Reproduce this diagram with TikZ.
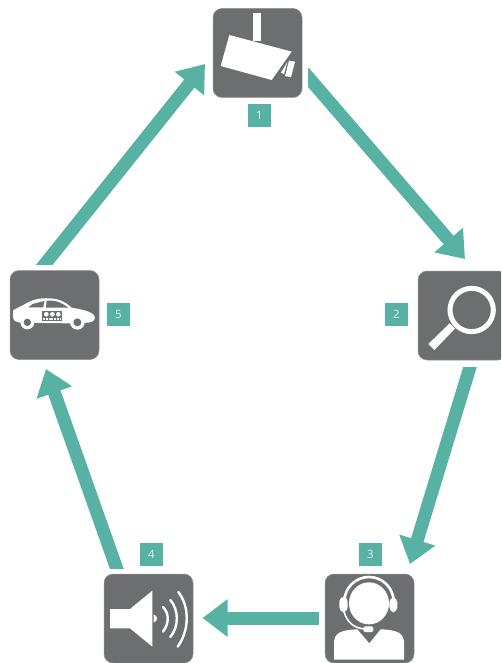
\documentclass[tikz,border=0pt]{standalone}
\usepackage{fontspec}
\setmainfont{Open Sans}
\usetikzlibrary{arrows.meta}
\definecolor{boxgray}{HTML}{6D6E70}
\definecolor{teal}{HTML}{58B2A4}
\definecolor{lab}{HTML}{E6F4F1}
\tikzset{
  iconbox/.style={rectangle,fill=boxgray,draw=boxgray!75,line width=.5pt,minimum size=89pt,inner sep=0pt,rounded corners=9pt},
  numbox/.style={rectangle,fill=teal,text=lab,minimum size=23.5pt,inner sep=0pt,font=\fontsize{11.5}{11.5}\selectfont},
  flow/.style={draw=teal,line width=13pt,-{Triangle[length=25pt,width=36pt,fill=teal]}},
  ink/.style={fill=white,draw=none},
  stroke/.style={draw=white,fill=none}
}
\begin{document}
\begin{tikzpicture}[x=1pt,y=-1pt]
\useasboundingbox (0,0) rectangle (501,663);
\clip (0,0) rectangle (501,663);
\fill[white] (0,0) rectangle (501,663);
% boxes
\node[iconbox] (box1) at (257.5,53) {};
\node[iconbox] (box2) at (462.5,315.5) {};
\node[iconbox] (box3) at (369.5,618.5) {};
\node[iconbox] (box4) at (148.5,618.5) {};
\node[iconbox] (box5) at (54.5,315) {};
% labels
\node[numbox] (n1) at (259.3,115.5) {1};
\node[numbox] (n2) at (396.5,314.5) {2};
\node[numbox] (n3) at (370.5,554.5) {3};
\node[numbox] (n4) at (151.5,554.5) {4};
\node[numbox] (n5) at (118.5,314.5) {5};
% connectors
\begin{scope}
\clip (308,0) rectangle (501,300);
\draw[flow] ([shift={(46.2,19)}]box1.center) -- ([shift={(2.5,-56.5)}]box2.center);
\end{scope}
\begin{scope}
\clip (380,367) rectangle (501,600);
\draw[flow] ([shift={(9,46.5)}]box2.center) -- ([shift={(40.5,-54.5)}]box3.center);
\end{scope}
\draw[flow] ([shift={(-50.5,-.5)}]box3.center) -- ([shift={(54,-.5)}]box4.center);
\begin{scope}
\clip (0,340) rectangle (200,568);
\draw[flow] ([shift={(-30.2,-45.5)}]box4.center) -- ([shift={(-8.5,54)}]box5.center);
\end{scope}
\begin{scope}
\clip (0,30) rectangle (230,264);
\draw[flow] ([shift={(-13.5,-46)}]box5.center) -- ([shift={(-52.5,11)}]box1.center);
\end{scope}
% camera
\begin{scope}[shift={(200,0)},scale=1/3]
\fill[ink] (158,40) rectangle (182,122);
\fill[ink] (88,105) -- (275,155) -- (215,240) -- (62,198) -- cycle;
\fill[ink] (255,228) -- (267,182) -- (285,185) -- (273,232) -- cycle;
\fill[ink] (243,218) -- (262,186) -- (252,222) -- cycle;
\end{scope}
% magnifier
\begin{scope}[shift={(375,260)},scale=1/3]
\draw[stroke,line width=5pt] (290,150) circle (65);
\fill[ink] (224,190) -- (240,206) -- (178,270) -- (160,252) -- cycle;
\end{scope}
% headset
\begin{scope}[shift={(310,535)},scale=1/3]
\fill[ink] (177,205) ellipse [x radius=60,y radius=63];
\draw[stroke,line width=2.6pt] (103,200) arc[start angle=180,end angle=360,radius=74];
\fill[ink,rounded corners=5pt] (88,185) rectangle (113,232);
\fill[ink,rounded corners=5pt] (238,187) rectangle (262,232);
\draw[stroke,line width=1.6pt] (102,230) .. controls (112,265) and (135,280) .. (165,282);
\fill[ink] (72,374) -- (72,325) .. controls (72,295) and (90,285) .. (142,283) -- (178,325) -- (212,283) .. controls (265,285) and (282,295) .. (282,325) -- (282,374) -- cycle;
\fill[ink,rounded corners=2pt] (160,274) rectangle (190,291);
\end{scope}
% speaker
\begin{scope}[shift={(95,535)},scale=1/3]
\fill[ink] (45,222) -- (105,222) -- (172,167) -- (172,335) -- (105,280) -- (45,280) -- cycle;
\fill[ink] (176,238) .. controls (190,245) and (190,255) .. (176,263) -- cycle;
\draw[stroke,line width=2.4pt,line cap=round] (204,216) .. controls (223,235) and (223,265) .. (204,290);
\draw[stroke,line width=2.4pt,line cap=round] (226,195) .. controls (252,225) and (252,275) .. (226,306);
\draw[stroke,line width=2.4pt,line cap=round] (250,171) .. controls (284,215) and (284,285) .. (248,335);
\end{scope}
% car
\begin{scope}[shift={(0,260)},scale=1/3]
\fill[ink] (40,150) .. controls (38,165) and (38,178) .. (45,183) -- (60,188) -- (205,190) -- (265,188) .. controls (280,186) and (287,178) .. (284,170) .. controls (280,155) and (245,148) .. (215,143) .. controls (195,125) and (180,117) .. (150,115) .. controls (115,113) and (95,120) .. (70,135) -- cycle;
\fill[boxgray] (85,142) -- (98,132) -- (133,123) -- (130,142) -- cycle;
\fill[boxgray] (140,122) .. controls (165,120) and (180,125) .. (205,143) -- (138,143) -- cycle;
\fill[ink] (82,187) circle (21);
\fill[ink] (232,187) circle (22);
\fill[boxgray] (82,187) circle (11);
\fill[boxgray] (232,187) circle (12);
\fill[boxgray] (125,153) rectangle (186,184);
\foreach \cx in {139,157,175}{\fill[ink] (\cx,163) circle (7);}
\draw[stroke,line width=1.2pt,dash pattern=on 2pt off .8pt] (129,177) -- (182,177);
\end{scope}
\end{tikzpicture}
\end{document}
